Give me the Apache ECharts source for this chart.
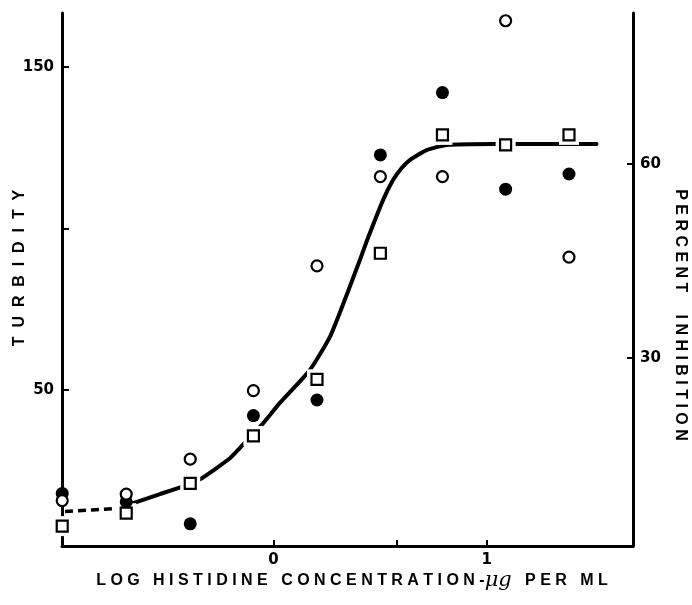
<!DOCTYPE html>
<html><head><meta charset="utf-8">
<script src="https://cdn.jsdelivr.net/npm/echarts@6/dist/echarts.min.js"></script>
<style>html,body{margin:0;padding:0;background:#fff}#c{width:692px;height:605px}</style>
</head><body><div id="c"></div>
<script>
// x: log histidine concentration (µg per ml)
const logConc = [-0.99, -0.69, -0.39, -0.094, 0.204, 0.501, 0.792, 1.088, 1.385];
// turbidity values for the three marker types
const filledCircles = [18.0, 15.4, 8.6, 42.1, 46.9, 122.7, 142.0, 112.1, 116.8];
const openCircles = [15.8, 17.8, 28.6, 49.8, 88.4, 116.0, 116.0, 164.2, 91.1];
const openSquares = [7.9, 11.9, 21.1, 35.8, 53.3, 92.3, 128.9, 125.8, 128.9];
// fitted curve
const dashedX = [-0.977, -0.85, -0.728, -0.69];
const dashedY = [12.4, 12.9, 13.4, 14.2];
const curveX = [-0.69, -0.657, -0.532, -0.438, -0.344, -0.204, -0.157, -0.055, 0.030, 0.171, 0.265, 0.343, 0.405, 0.437, 0.514, 0.561, 0.600, 0.639, 0.718, 0.811, 1.030, 1.514];
const curveY = [14.2, 15.0, 17.8, 19.9, 22.4, 28.9, 32.1, 39.2, 46.0, 56.2, 66.5, 79.4, 90.2, 96.0, 108.8, 115.0, 118.6, 121.1, 124.2, 125.8, 126.1, 126.1];
// ticks
const xTicks = [0, 0.578, 1];
const xLabels = [0, 1];
const leftTicks = [50, 100, 150];
const leftLabels = [50, 150];
const rightTicks = [30, 60];
const rightLabels = [30, 60];

const zip = (xs, ys) => xs.map((x, i) => [x, ys[i]]);
const spaced = (s, sep, wsep) => s.split(' ').map(w => w.split('').join(sep)).join(wsep);

const chart = echarts.init(document.getElementById('c'), null, {renderer: 'canvas'});
const numFont = {fontFamily: 'DejaVu Sans', fontWeight: 'bold', fontSize: 15, color: '#000'};
const axisLineStyle = {show: true, onZero: false, lineStyle: {color: '#000', width: 3}};

chart.setOption({
  animation: false,
  backgroundColor: '#fff',
  grid: {left: 62, right: 59, top: 13, bottom: 59},
  xAxis: {
    type: 'value', min: -0.991, max: 1.685,
    axisLine: axisLineStyle,
    splitLine: {show: false},
    axisTick: {show: true, inside: true, length: 6, customValues: xTicks, lineStyle: {color: '#000', width: 2}},
    axisLabel: Object.assign({customValues: xLabels, margin: 7, formatter: v => String(Math.round(v))}, numFont)
  },
  yAxis: [{
    type: 'value', min: 1.75, max: 166.6, position: 'left',
    axisLine: axisLineStyle,
    splitLine: {show: false},
    axisTick: {show: true, inside: true, length: 7, customValues: leftTicks, lineStyle: {color: '#000', width: 2}},
    axisLabel: Object.assign({customValues: leftLabels, margin: 8, formatter: v => String(Math.round(v))}, numFont)
  }, {
    type: 'value', min: 0.875, max: 83.3, position: 'right',
    axisLine: axisLineStyle,
    splitLine: {show: false},
    axisTick: {show: true, inside: true, length: 6, customValues: rightTicks, lineStyle: {color: '#000', width: 2}},
    axisLabel: Object.assign({customValues: rightLabels, margin: 7, formatter: v => String(Math.round(v))}, numFont)
  }],
  series: [
    {type: 'line', data: zip(curveX, curveY), showSymbol: false, smooth: 0.18,
     lineStyle: {color: '#000', width: 4, cap: 'round', join: 'round'}, z: 2},
    {type: 'line', data: zip(dashedX, dashedY), showSymbol: false, smooth: false,
     lineStyle: {color: '#000', width: 3.5, type: [8, 5], join: 'round'}, z: 2},
    {type: 'scatter', data: zip(logConc, openSquares), symbol: 'rect', symbolSize: 20,
     itemStyle: {color: '#fff', opacity: 1}, z: 3, silent: true},
    {type: 'scatter', data: zip(logConc, filledCircles), symbol: 'circle', symbolSize: 13,
     itemStyle: {color: '#000', opacity: 1}, z: 4},
    {type: 'scatter', data: zip(logConc, openCircles), symbol: 'circle', symbolSize: 11,
     itemStyle: {color: '#fff', borderColor: '#000', borderWidth: 2.2, opacity: 1}, z: 5},
    {type: 'scatter', data: zip(logConc, openSquares), symbol: 'rect', symbolSize: 11,
     itemStyle: {color: '#fff', borderColor: '#000', borderWidth: 2.2, opacity: 1}, z: 6}
  ],
  graphic: [
    {type: 'text', x: 20, y: 268, rotation: Math.PI / 2,
     style: {text: spaced('TURBIDITY', '  ', '    '), fill: '#000',
       font: 'bold 16px "Liberation Sans"', textAlign: 'center', textVerticalAlign: 'middle'}},
    {type: 'text', x: 680, y: 315, rotation: -Math.PI / 2,
     style: {text: spaced('PERCENT INHIBITION', ' ', '     '), fill: '#000',
       font: 'bold 16px "Liberation Sans"', textAlign: 'center', textVerticalAlign: 'middle'}},
    {type: 'text', x: 352, y: 581,
     style: {
       text: '{a|' + spaced('LOG HISTIDINE CONCENTRATION', ' ', '   ') + ' -}{b|μg}{a|   ' + spaced('PER ML', ' ', '   ') + '}',
       textAlign: 'center', textVerticalAlign: 'middle',
       rich: {
         a: {fontFamily: 'Liberation Sans', fontWeight: 'bold', fontSize: 16, fill: '#000'},
         b: {fontFamily: 'DejaVu Serif', fontStyle: 'italic', fontSize: 21, fill: '#000'}
       }
     }}
  ]
});
</script></body></html>
